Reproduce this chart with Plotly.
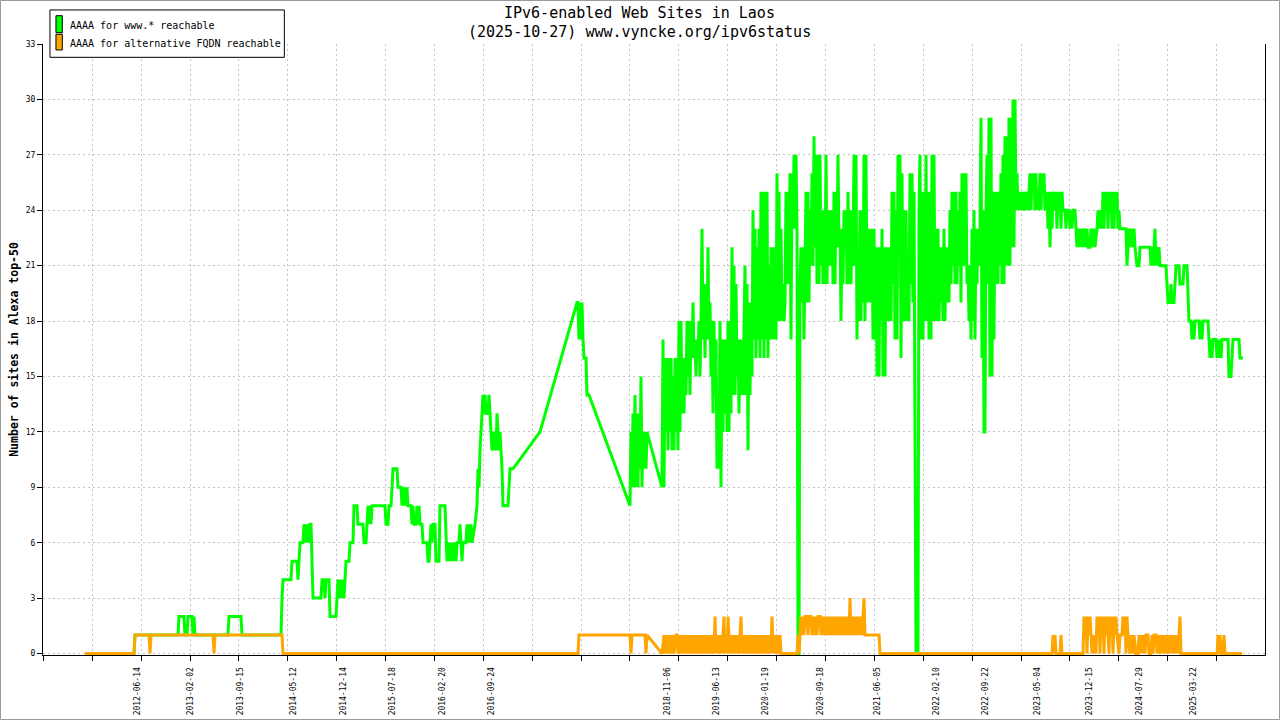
import plotly.graph_objects as go

# sample positions (one per daily probe, gaps where probes are missing)
# and number of sites
www_points = [
    (12, 0), (61, 0), (62, 1), (105, 1), (106, 2), (111, 2), (112, 1), (114, 1), (115, 2), (119, 2),
    (120, 1), (121, 2), (122, 1), (155, 1), (156, 2), (168, 2), (169, 1), (208, 1), (209, 3), (210, 4),
    (218, 4), (219, 5), (224, 5), (225, 4), (226, 5), (227, 6), (230, 6), (231, 7), (233, 6), (234, 7),
    (236, 6), (237, 7), (238, 7), (239, 4), (240, 3), (248, 3), (249, 4), (251, 4), (252, 3), (253, 4),
    (256, 4), (257, 2), (263, 2), (264, 3), (265, 4), (266, 3), (267, 4), (268, 3), (269, 4), (271, 3),
    (272, 4), (273, 5), (276, 5), (277, 6), (280, 6), (281, 8), (284, 8), (285, 7), (290, 7), (291, 6),
    (293, 6), (294, 7), (295, 8), (296, 7), (297, 8), (298, 7), (299, 8), (312, 8), (313, 7), (315, 7),
    (316, 8), (318, 8), (319, 9), (320, 10), (324, 10), (325, 9), (328, 9), (329, 8), (330, 9), (331, 8),
    (332, 9), (333, 8), (334, 9), (335, 8), (338, 8), (339, 7), (340, 8), (341, 7), (343, 7), (344, 8),
    (345, 7), (346, 8), (347, 7), (349, 7), (350, 6), (354, 6), (355, 5), (356, 5), (357, 6), (358, 7),
    (359, 6), (360, 7), (362, 7), (363, 5), (366, 5), (367, 8), (372, 8), (373, 6), (374, 5), (375, 6),
    (376, 5), (377, 6), (378, 5), (379, 6), (380, 5), (381, 6), (383, 5), (384, 6), (386, 6), (387, 7),
    (388, 6), (389, 5), (390, 6), (393, 6), (394, 7), (395, 6), (396, 7), (397, 6), (398, 7), (399, 6),
    (402, 7), (404, 8), (405, 10), (406, 9), (407, 11), (410, 14), (411, 13), (412, 14), (413, 13), (415, 13),
    (416, 14), (417, 13), (418, 12), (419, 11), (420, 12), (421, 11), (422, 12), (423, 11), (424, 13), (425, 12),
    (426, 11), (427, 12), (428, 11), (429, 10), (430, 8), (435, 8), (436, 9), (437, 10), (440, 10), (467, 12),
    (504, 19), (505, 19), (506, 17), (507, 19), (508, 17), (509, 19), (510, 17), (511, 16), (513, 16), (514, 14),
    (516, 14), (557, 8), (558, 12), (559, 9), (560, 13), (561, 9), (562, 14), (563, 9), (564, 13), (565, 9),
    (566, 13), (567, 10), (568, 15), (569, 9), (570, 12), (571, 10), (572, 12), (573, 10), (574, 12), (589, 9),
    (590, 17), (591, 9), (592, 16), (593, 12), (594, 16), (595, 11), (596, 16), (597, 12), (598, 16), (599, 11),
    (600, 15), (601, 11), (602, 16), (603, 12), (604, 16), (605, 11), (606, 18), (607, 12), (608, 18), (609, 13),
    (610, 16), (611, 13), (612, 16), (613, 14), (614, 18), (615, 15), (616, 18), (617, 14), (618, 18), (619, 16),
    (620, 19), (621, 16), (622, 17), (623, 15), (624, 17), (625, 16), (626, 18), (627, 15), (628, 18), (629, 23),
    (630, 17), (631, 20), (632, 16), (633, 20), (634, 17), (635, 22), (636, 17), (637, 19), (638, 15), (639, 18),
    (640, 13), (641, 18), (642, 14), (643, 17), (644, 10), (645, 14), (646, 10), (647, 18), (648, 9), (649, 17),
    (650, 12), (651, 17), (652, 13), (653, 17), (654, 12), (655, 18), (656, 12), (657, 18), (658, 13), (659, 22),
    (660, 14), (661, 21), (662, 14), (663, 20), (664, 15), (665, 17), (666, 13), (667, 17), (668, 14), (669, 17),
    (670, 14), (671, 17), (672, 21), (673, 14), (674, 20), (675, 11), (676, 19), (677, 14), (678, 19), (679, 15),
    (680, 24), (681, 17), (682, 23), (683, 16), (684, 22), (685, 17), (686, 23), (687, 16), (688, 25), (689, 17),
    (690, 25), (691, 16), (692, 25), (693, 17), (694, 25), (695, 16), (696, 21), (697, 17), (698, 22), (699, 17),
    (700, 22), (701, 17), (702, 22), (703, 17), (704, 26), (705, 18), (706, 25), (707, 18), (708, 23), (709, 18),
    (710, 20), (711, 18), (712, 19), (713, 25), (714, 20), (715, 25), (716, 20), (717, 26), (718, 17), (719, 26),
    (720, 23), (721, 27), (722, 23), (723, 27), (724, 23), (725, 0), (726, 0), (727, 20), (728, 22), (729, 19),
    (730, 22), (731, 17), (732, 20), (733, 25), (734, 19), (735, 25), (736, 19), (737, 24), (738, 21), (739, 26),
    (740, 21), (741, 28), (742, 22), (743, 27), (744, 20), (745, 27), (746, 20), (747, 27), (748, 21), (749, 24),
    (750, 20), (751, 24), (752, 20), (753, 27), (754, 20), (755, 24), (756, 21), (757, 24), (758, 21), (759, 24),
    (760, 20), (761, 25), (762, 20), (763, 25), (764, 22), (765, 27), (766, 22), (767, 23), (768, 18), (769, 23),
    (770, 20), (771, 24), (772, 22), (773, 24), (774, 20), (775, 25), (776, 20), (777, 24), (778, 20), (779, 24),
    (780, 21), (781, 27), (782, 21), (783, 27), (784, 17), (785, 22), (786, 18), (787, 24), (788, 18), (789, 24),
    (790, 19), (791, 27), (792, 18), (793, 27), (794, 19), (795, 23), (796, 19), (797, 23), (798, 19), (799, 23),
    (800, 17), (801, 23), (802, 17), (803, 22), (804, 15), (805, 22), (806, 15), (807, 22), (808, 18), (809, 23),
    (810, 15), (811, 22), (812, 15), (813, 22), (814, 18), (815, 22), (816, 18), (817, 22), (818, 18), (819, 25),
    (820, 20), (821, 25), (822, 17), (823, 24), (824, 17), (825, 27), (826, 22), (827, 27), (828, 16), (829, 26),
    (830, 18), (831, 24), (832, 18), (833, 24), (834, 18), (835, 21), (836, 18), (837, 26), (838, 20), (839, 26),
    (840, 19), (841, 25), (842, 12), (843, 0), (845, 0), (846, 24), (847, 27), (848, 17), (849, 25), (850, 17),
    (851, 25), (852, 18), (853, 27), (854, 18), (855, 25), (856, 17), (857, 25), (858, 17), (859, 27), (860, 18),
    (861, 27), (862, 18), (863, 23), (864, 18), (865, 23), (866, 18), (867, 22), (868, 19), (869, 22), (870, 18),
    (871, 23), (872, 18), (873, 22), (874, 19), (875, 22), (876, 19), (877, 24), (878, 20), (879, 25), (880, 21),
    (881, 25), (882, 20), (883, 25), (884, 20), (885, 24), (886, 21), (887, 25), (888, 19), (889, 26), (890, 21),
    (891, 26), (892, 21), (893, 26), (894, 20), (895, 21), (896, 18), (897, 21), (898, 17), (899, 23), (900, 18),
    (901, 24), (902, 17), (903, 23), (904, 20), (905, 23), (906, 21), (907, 23), (908, 29), (909, 16), (910, 24),
    (911, 12), (912, 12), (913, 24), (914, 27), (915, 20), (916, 29), (917, 15), (918, 29), (919, 15), (920, 25),
    (921, 17), (922, 25), (923, 20), (924, 25), (925, 20), (926, 25), (927, 21), (928, 26), (929, 20), (930, 27),
    (931, 20), (932, 28), (933, 21), (934, 28), (935, 21), (936, 29), (937, 21), (938, 29), (939, 22), (940, 30),
    (941, 22), (942, 30), (943, 24), (944, 26), (945, 24), (946, 25), (947, 24), (948, 25), (949, 24), (951, 25),
    (952, 24), (954, 25), (955, 24), (956, 25), (957, 26), (958, 24), (959, 26), (960, 25), (961, 26), (962, 24),
    (963, 26), (964, 24), (965, 25), (966, 24), (967, 26), (968, 24), (969, 26), (970, 25), (971, 26), (972, 24),
    (974, 25), (975, 23), (976, 25), (977, 22), (978, 25), (979, 23), (980, 25), (981, 24), (983, 25), (984, 23),
    (985, 25), (986, 24), (987, 25), (988, 23), (989, 25), (990, 24), (992, 24), (993, 23), (994, 24), (996, 24),
    (997, 23), (998, 24), (999, 23), (1000, 24), (1002, 24), (1003, 23), (1004, 22), (1005, 23), (1006, 22), (1008, 23),
    (1009, 22), (1011, 23), (1012, 22), (1014, 23), (1015, 22), (1017, 22), (1018, 23), (1019, 22), (1021, 23), (1022, 22),
    (1024, 23), (1025, 24), (1026, 23), (1028, 24), (1029, 23), (1030, 25), (1031, 23), (1032, 25), (1033, 24), (1034, 25),
    (1035, 23), (1036, 25), (1037, 24), (1038, 25), (1039, 23), (1040, 25), (1041, 23), (1042, 25), (1043, 24), (1044, 25),
    (1045, 23), (1046, 24), (1047, 23), (1053, 23), (1054, 21), (1055, 22), (1056, 23), (1057, 22), (1058, 23), (1060, 22),
    (1061, 23), (1062, 22), (1064, 21), (1066, 21), (1067, 22), (1077, 22), (1078, 21), (1079, 22), (1080, 21), (1081, 22),
    (1082, 23), (1083, 21), (1084, 22), (1085, 21), (1086, 22), (1087, 21), (1093, 21), (1094, 20), (1095, 19), (1097, 19),
    (1098, 20), (1099, 19), (1101, 19), (1102, 20), (1103, 21), (1106, 21), (1107, 20), (1110, 20), (1111, 21), (1114, 21),
    (1115, 19), (1116, 18), (1118, 18), (1119, 17), (1120, 18), (1121, 17), (1122, 18), (1126, 18), (1127, 17), (1128, 18),
    (1129, 17), (1130, 18), (1135, 18), (1136, 17), (1137, 16), (1138, 17), (1139, 16), (1140, 17), (1143, 17), (1144, 16),
    (1145, 17), (1146, 16), (1147, 17), (1148, 16), (1149, 17), (1155, 17), (1156, 15), (1158, 15), (1159, 16), (1160, 17),
    (1166, 17), (1167, 16), (1170, 16),
]

alt_points = [
    (12, 0), (61, 0), (62, 1), (76, 1), (77, 0), (78, 1), (140, 1), (141, 0), (142, 1), (209, 1),
    (210, 0), (505, 0), (506, 1), (557, 1), (558, 0), (559, 1), (572, 1), (573, 0), (574, 1), (589, 0),
    (591, 1), (592, 0), (594, 1), (595, 0), (597, 1), (598, 0), (600, 1), (601, 0), (603, 1), (604, 1),
    (605, 0), (606, 1), (608, 0), (609, 1), (611, 0), (612, 1), (614, 0), (615, 1), (617, 0), (618, 1),
    (620, 0), (621, 1), (623, 0), (624, 1), (626, 0), (627, 1), (629, 0), (630, 1), (632, 0), (633, 1),
    (635, 0), (636, 1), (638, 0), (639, 1), (641, 0), (642, 2), (643, 0), (644, 1), (646, 0), (647, 1),
    (649, 0), (650, 1), (651, 2), (652, 0), (653, 1), (654, 0), (655, 2), (656, 1), (657, 0), (658, 1),
    (660, 0), (661, 1), (663, 0), (664, 1), (666, 0), (667, 1), (668, 2), (669, 0), (670, 1), (672, 0),
    (673, 1), (675, 0), (676, 1), (678, 0), (679, 1), (681, 0), (682, 1), (684, 0), (685, 1), (687, 0),
    (688, 1), (690, 0), (691, 1), (693, 0), (694, 1), (696, 0), (697, 1), (698, 0), (699, 2), (700, 0),
    (701, 1), (703, 0), (704, 1), (706, 0), (707, 1), (708, 0), (724, 0), (725, 1), (726, 0), (727, 1),
    (728, 2), (729, 1), (730, 2), (731, 1), (732, 2), (734, 2), (735, 1), (736, 2), (738, 2), (739, 1),
    (740, 2), (741, 1), (742, 2), (744, 1), (745, 2), (747, 2), (748, 1), (749, 2), (750, 1), (751, 2),
    (753, 1), (754, 2), (756, 1), (757, 2), (759, 1), (760, 2), (762, 1), (763, 2), (765, 1), (766, 2),
    (768, 1), (769, 2), (771, 1), (772, 2), (774, 1), (775, 2), (776, 1), (777, 3), (778, 1), (779, 2),
    (781, 1), (782, 2), (784, 1), (785, 2), (787, 1), (788, 2), (789, 1), (791, 3), (792, 1), (806, 1),
    (807, 0), (979, 0), (980, 1), (981, 0), (982, 1), (983, 0), (987, 0), (988, 1), (989, 0), (1010, 0),
    (1011, 2), (1012, 1), (1013, 2), (1014, 0), (1015, 2), (1016, 1), (1017, 2), (1018, 1), (1019, 0), (1020, 1),
    (1021, 0), (1022, 1), (1023, 0), (1024, 2), (1025, 1), (1026, 2), (1027, 0), (1028, 2), (1029, 1), (1030, 2),
    (1031, 0), (1032, 2), (1033, 1), (1034, 2), (1036, 0), (1037, 2), (1038, 1), (1039, 2), (1040, 0), (1041, 2),
    (1042, 1), (1043, 2), (1044, 1), (1046, 0), (1047, 1), (1049, 1), (1050, 2), (1051, 1), (1052, 2), (1053, 0),
    (1054, 2), (1055, 1), (1057, 0), (1058, 1), (1060, 0), (1061, 1), (1063, 0), (1065, 0), (1066, 1), (1067, 0),
    (1068, 1), (1069, 0), (1070, 1), (1072, 0), (1073, 1), (1075, 1), (1076, 0), (1078, 0), (1079, 1), (1080, 0),
    (1081, 1), (1083, 1), (1084, 0), (1086, 1), (1087, 0), (1089, 1), (1090, 0), (1091, 1), (1092, 0), (1093, 1),
    (1094, 0), (1096, 1), (1097, 0), (1098, 1), (1099, 0), (1100, 1), (1101, 0), (1102, 1), (1103, 0), (1104, 1),
    (1105, 0), (1107, 2), (1108, 0), (1144, 0), (1145, 1), (1146, 0), (1147, 1), (1148, 0), (1150, 0), (1151, 1),
    (1152, 0), (1169, 0),
]

label_pos = [64, 117, 167, 220, 270, 319, 369, 418, 594, 643, 692, 747, 804, 863, 912, 964, 1016, 1066, 1120]
label_text = ["2012-06-14", "2013-02-02", "2013-09-15", "2014-05-12", "2014-12-14", "2015-07-18",
              "2016-02-20", "2016-09-24", "2018-11-06", "2019-06-13", "2020-01-19", "2020-09-18",
              "2021-06-05", "2022-02-10", "2022-09-22", "2023-05-04", "2023-12-15", "2024-07-29",
              "2025-03-22"]

series_names = ["AAAA for www.* reachable", "AAAA for alternative FQDN reachable"]
series_colors = ["#00ff00", "#ffa500"]
title_lines = ["IPv6-enabled Web Sites in Laos", "(2025-10-27) www.vyncke.org/ipv6status"]

MONO = "DejaVu Sans Mono"

www_x = [p[0] for p in www_points]
www_y = [p[1] for p in www_points]
alt_x = [p[0] for p in alt_points]
alt_y = [p[1] for p in alt_points]

fig = go.Figure()
fig.add_trace(go.Scatter(x=www_x, y=www_y, mode="lines", name=series_names[0],
                         line=dict(color=series_colors[0], width=3), showlegend=False))
fig.add_trace(go.Scatter(x=alt_x, y=alt_y, mode="lines", name=series_names[1],
                         line=dict(color=series_colors[1], width=3), showlegend=False))

grid = dict(gridcolor="#c4c4c4", griddash="2px,3px", gridwidth=1)

fig.update_layout(
    width=1280, height=720,
    margin=dict(l=43, r=15, t=44, b=65, autoexpand=False),
    paper_bgcolor="white", plot_bgcolor="white",
    font=dict(family=MONO, color="black"),
    xaxis=dict(range=[-30, 1192], tickmode="array", tickvals=label_pos, ticktext=label_text,
               tickangle=-90, ticks="", ticklabelstandoff=8, tickfont=dict(family=MONO, size=8),
               showgrid=False, zeroline=False, showline=True, linecolor="black", linewidth=1,
               layer="below traces", automargin=False,
               minor=dict(tickmode="linear", tick0=19.3, dtick=48.88, ticks="outside",
                          ticklen=5, tickcolor="black", showgrid=True, **grid)),
    yaxis=dict(range=[-0.08, 33], tickmode="linear", tick0=0, dtick=3, ticks="outside",
               ticklen=5, tickcolor="black", tickfont=dict(family=MONO, size=8),
               showgrid=True, **grid, zeroline=False, showline=True, linecolor="black",
               linewidth=1, mirror=True, layer="below traces", automargin=False),
)

# two-line title
for ty, line in zip([1.0507, 1.0196], title_lines):
    fig.add_annotation(text=line, xref="paper", yref="paper", x=0.4885, y=ty, xanchor="center",
                       yanchor="middle", showarrow=False, font=dict(family=MONO, size=15, color="black"))

# y axis title
fig.add_annotation(text="<b>Number of sites in Alexa top-50</b>", xref="paper", yref="paper",
                   x=-0.0243, y=0.5, xanchor="center", yanchor="middle", textangle=-90,
                   showarrow=False, font=dict(family=MONO, size=11.5, color="black"))

# hand-made legend box with small colour blocks
fig.add_shape(type="rect", xref="paper", yref="paper", x0=0.0057, x1=0.1975, y0=0.9782, y1=1.0557,
              line=dict(color="black", width=1), fillcolor="white")
legend_rows = [(1.0185, 1.0463, 1.0303), (0.9902, 1.0159, 1.0016)]
for (y0, y1, ty), name, color in zip(legend_rows, series_names, series_colors):
    fig.add_shape(type="rect", xref="paper", yref="paper", x0=0.0106, x1=0.0158, y0=y0, y1=y1,
                  line=dict(color="black", width=1), fillcolor=color)
    fig.add_annotation(text=name, xref="paper", yref="paper", x=0.0202, y=ty, xanchor="left",
                       yanchor="middle", showarrow=False, font=dict(family=MONO, size=10, color="black"))

# thin grey frame around the whole image
fig.add_shape(type="rect", xref="paper", yref="paper", x0=-0.0348, x1=1.0119, y0=-0.1056, y1=1.0712,
              line=dict(color="#999999", width=1))

fig.write_html("out.html", config={"displayModeBar": False},
               post_script="document.body.style.margin='0';")
